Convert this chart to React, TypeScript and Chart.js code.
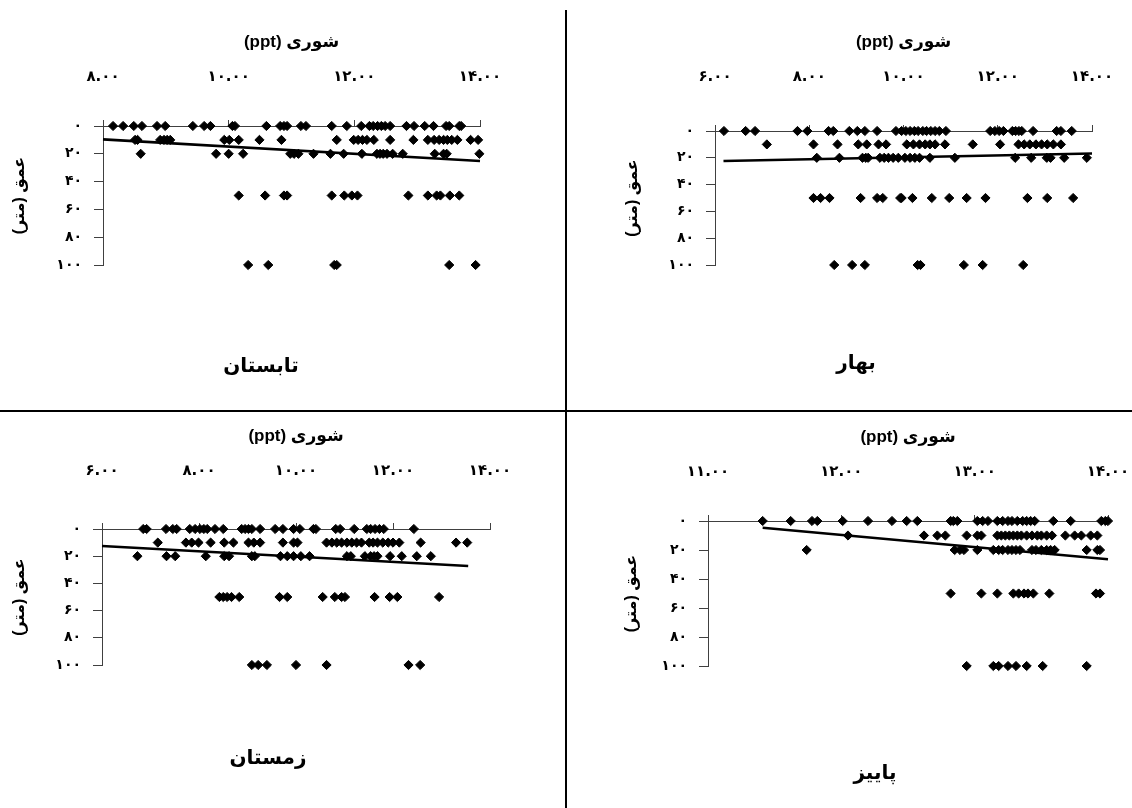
import React, { useEffect, useRef } from 'react';
import { Chart, registerables } from 'chart.js';

Chart.register(...registerables);

// ---------- shared ----------
const DEPTH_LEVELS = [0, 10, 20, 50, 100];
const DEPTH_TICKS = ['۰', '۲۰', '۴۰', '۶۰', '۸۰', '۱۰۰'];
const X_TITLE = 'شوری (ppt)';
const Y_TITLE = 'عمق (متر)';

// ---------- summer (تابستان) : salinity at each depth ----------
const summerD0 = [8.16, 8.32, 8.49, 8.62, 8.86, 8.99, 9.43, 9.61, 9.71, 10.06, 10.1, 10.6, 10.82, 10.88, 10.93, 11.15, 11.23, 11.64, 11.88, 12.11, 12.24, 12.3, 12.37, 12.43, 12.49, 12.57, 12.83, 12.95, 13.12, 13.26, 13.46, 13.51, 13.67, 13.7];
const summerD10 = [8.51, 8.55, 8.91, 8.97, 9.02, 9.07, 9.93, 10.01, 10.16, 10.49, 10.84, 11.72, 11.99, 12.06, 12.13, 12.2, 12.31, 12.57, 12.94, 13.17, 13.27, 13.35, 13.42, 13.48, 13.55, 13.64, 13.85, 13.97];
const summerD20 = [8.6, 9.8, 10.0, 10.23, 10.98, 11.04, 11.11, 11.35, 11.62, 11.83, 12.12, 12.36, 12.41, 12.46, 12.52, 12.61, 12.77, 13.28, 13.42, 13.47, 13.99];
const summerD50 = [10.16, 10.58, 10.88, 10.93, 11.64, 11.84, 11.96, 12.05, 12.86, 13.17, 13.31, 13.37, 13.52, 13.67];
const summerD100 = [10.31, 10.63, 11.68, 11.72, 13.51, 13.93];
const summerTrend = [{ x: 8.0, y: 9.6 }, { x: 14.0, y: 25.2 }];
const summerXTicks = ['۸.۰۰', '۱۰.۰۰', '۱۲.۰۰', '۱۴.۰۰'];

// ---------- spring (بهار) ----------
const springD0 = [6.19, 6.65, 6.85, 7.75, 7.96, 8.41, 8.51, 8.85, 9.02, 9.18, 9.44, 9.84, 9.96, 10.05, 10.14, 10.23, 10.31, 10.41, 10.49, 10.58, 10.67, 10.76, 10.9, 11.84, 11.94, 12.03, 12.12, 12.31, 12.38, 12.45, 12.51, 12.75, 13.25, 13.34, 13.57];
const springD10 = [7.1, 8.09, 8.6, 9.04, 9.22, 9.47, 9.63, 10.07, 10.21, 10.34, 10.46, 10.56, 10.67, 10.88, 11.47, 12.05, 12.44, 12.56, 12.68, 12.81, 12.93, 13.05, 13.18, 13.34];
const springD20 = [8.16, 8.64, 9.13, 9.2, 9.25, 9.5, 9.59, 9.68, 9.78, 9.89, 10.03, 10.14, 10.24, 10.34, 10.56, 11.09, 12.37, 12.71, 13.04, 13.12, 13.41, 13.89];
const springD50 = [8.09, 8.24, 8.43, 9.09, 9.44, 9.56, 9.93, 9.96, 10.19, 10.6, 10.97, 11.34, 11.74, 12.63, 13.05, 13.6];
const springD100 = [8.53, 8.91, 9.18, 10.3, 10.36, 11.28, 11.68, 12.54];
const springTrend = [{ x: 6.18, y: 22.4 }, { x: 14.0, y: 16.8 }];
const springXTicks = ['۶.۰۰', '۸.۰۰', '۱۰.۰۰', '۱۲.۰۰', '۱۴.۰۰'];

// ---------- winter (زمستان) ----------
const winterD0 = [6.85, 6.92, 7.32, 7.46, 7.54, 7.81, 7.92, 8.02, 8.1, 8.17, 8.33, 8.5, 8.88, 8.95, 9.02, 9.09, 9.26, 9.57, 9.73, 9.95, 10.08, 10.36, 10.41, 10.82, 10.91, 11.2, 11.46, 11.54, 11.63, 11.72, 11.81, 12.43];
const winterD10 = [7.15, 7.73, 7.85, 7.99, 8.24, 8.52, 8.71, 9.02, 9.13, 9.26, 9.73, 9.95, 10.03, 10.63, 10.74, 10.84, 10.94, 11.05, 11.15, 11.25, 11.35, 11.51, 11.59, 11.68, 11.79, 11.9, 12.0, 12.13, 12.57, 13.3, 13.53];
const winterD20 = [6.73, 7.33, 7.51, 8.14, 8.52, 8.62, 9.09, 9.15, 9.68, 9.82, 9.95, 10.1, 10.28, 11.05, 11.13, 11.42, 11.54, 11.61, 11.68, 11.94, 12.18, 12.49, 12.78];
const winterD50 = [8.42, 8.5, 8.58, 8.67, 8.83, 9.66, 9.82, 10.55, 10.8, 10.94, 11.01, 11.62, 11.93, 12.09, 12.95];
const winterD100 = [9.09, 9.22, 9.4, 10.0, 10.63, 12.32, 12.56];
const winterTrend = [{ x: 6.0, y: 12.5 }, { x: 13.55, y: 27.2 }];
const winterXTicks = ['۶.۰۰', '۸.۰۰', '۱۰.۰۰', '۱۲.۰۰', '۱۴.۰۰'];

// ---------- autumn (پاییز) ----------
const autumnD0 = [11.41, 11.62, 11.78, 11.82, 12.01, 12.2, 12.38, 12.49, 12.57, 12.82, 12.84, 12.87, 13.02, 13.06, 13.1, 13.17, 13.21, 13.25, 13.28, 13.32, 13.36, 13.39, 13.42, 13.45, 13.59, 13.72, 13.95, 13.98, 14.0];
const autumnD10 = [12.05, 12.62, 12.72, 12.78, 12.94, 13.02, 13.05, 13.17, 13.2, 13.23, 13.26, 13.29, 13.32, 13.35, 13.39, 13.43, 13.47, 13.5, 13.54, 13.58, 13.68, 13.75, 13.8, 13.87, 13.92];
const autumnD20 = [11.74, 12.85, 12.89, 12.92, 13.02, 13.14, 13.18, 13.21, 13.25, 13.28, 13.31, 13.34, 13.43, 13.46, 13.5, 13.54, 13.57, 13.6, 13.84, 13.92, 13.94];
const autumnD50 = [12.82, 13.05, 13.17, 13.29, 13.33, 13.37, 13.4, 13.44, 13.56, 13.91, 13.94];
const autumnD100 = [12.94, 13.14, 13.18, 13.25, 13.31, 13.39, 13.51, 13.84];
const autumnTrend = [{ x: 11.41, y: 4.6 }, { x: 14.0, y: 26.4 }];
const autumnXTicks = ['۱۱.۰۰', '۱۲.۰۰', '۱۳.۰۰', '۱۴.۰۰'];

// ---------- panel setup (layout only) ----------
type PanelCfg = {
  rows: number[][];
  trend: { x: number; y: number }[];
  xTicks: string[];
  xMin: number; xMax: number; xStep: number;
  left: number; top: number; w: number; h: number;
  pad: { left: number; right: number; top: number; bottom: number };
  yW: number; xH: number; xTitlePad: number; tickPad: number;
};

const PANELS: PanelCfg[] = [
  {
    rows: [summerD0, summerD10, summerD20, summerD50, summerD100], trend: summerTrend, xTicks: summerXTicks,
    xMin: 8, xMax: 14, xStep: 2,
    left: 0, top: 0, w: 565, h: 410,
    pad: { left: 6, right: 85, top: 0, bottom: 145 }, yW: 97, xH: 126, xTitlePad: 32, tickPad: 34,
  },
  {
    rows: [springD0, springD10, springD20, springD50, springD100], trend: springTrend, xTicks: springXTicks,
    xMin: 6, xMax: 14, xStep: 2,
    left: 568, top: 0, w: 564, h: 410,
    pad: { left: 51, right: 40, top: 0, bottom: 145 }, yW: 96, xH: 131, xTitlePad: 32, tickPad: 39,
  },
  {
    rows: [winterD0, winterD10, winterD20, winterD50, winterD100], trend: winterTrend, xTicks: winterXTicks,
    xMin: 6, xMax: 14, xStep: 2,
    left: 0, top: 413, w: 565, h: 395,
    pad: { left: 6, right: 75, top: 0, bottom: 143 }, yW: 96, xH: 116, xTitlePad: 13, tickPad: 43,
  },
  {
    rows: [autumnD0, autumnD10, autumnD20, autumnD50, autumnD100], trend: autumnTrend, xTicks: autumnXTicks,
    xMin: 11, xMax: 14, xStep: 1,
    left: 568, top: 413, w: 564, h: 395,
    pad: { left: 50, right: 24, top: 0, bottom: 142 }, yW: 90, xH: 108, xTitlePad: 14, tickPad: 34,
  },
];

const SEASONS = [
  { text: 'تابستان', x: 261, y: 365 },
  { text: 'بهار', x: 856, y: 362 },
  { text: 'زمستان', x: 268, y: 757 },
  { text: 'پاییز', x: 875, y: 772 },
];

const AXIS_COLOR = '#404040';
const DIGIT_FONT = "'DejaVu Sans', sans-serif";
const TITLE_FONT = "'Liberation Sans', 'DejaVu Sans', sans-serif";

function Panel({ cfg }: { cfg: PanelCfg }) {
  const ref = useRef<HTMLCanvasElement | null>(null);
  useEffect(() => {
    if (!ref.current) return;
    const points: { x: number; y: number }[] = [];
    cfg.rows.forEach((row, i) => row.forEach((x) => points.push({ x, y: DEPTH_LEVELS[i] })));
    const chart = new Chart(ref.current, {
      type: 'scatter',
      data: {
        datasets: [
          {
            type: 'line',
            data: cfg.trend,
            borderColor: '#000',
            borderWidth: 2.6,
            pointRadius: 0,
            fill: false,
            clip: false,
            order: 0,
          } as any,
          {
            type: 'scatter',
            data: points,
            pointStyle: 'rectRot',
            pointRadius: 4.6,
            backgroundColor: '#000',
            borderColor: '#000',
            borderWidth: 1,
            clip: false,
            order: 1,
          } as any,
        ],
      },
      options: {
        responsive: false,
        animation: false,
        events: [],
        layout: { padding: cfg.pad, autoPadding: false },
        plugins: { legend: { display: false }, tooltip: { enabled: false }, title: { display: false } },
        scales: {
          x: {
            type: 'linear',
            position: 'top',
            min: cfg.xMin,
            max: cfg.xMax,
            ticks: {
              stepSize: cfg.xStep,
              autoSkip: false,
              maxRotation: 0,
              padding: cfg.tickPad,
              color: '#000',
              font: { family: DIGIT_FONT, size: 15, weight: 'bold' },
              callback: (v: any) => cfg.xTicks[Math.round((Number(v) - cfg.xMin) / cfg.xStep)],
            },
            grid: { drawOnChartArea: false, drawTicks: true, tickLength: 6, color: AXIS_COLOR },
            border: { color: AXIS_COLOR, width: 1 },
            title: {
              display: true,
              text: X_TITLE,
              color: '#000',
              font: { family: TITLE_FONT, size: 17, weight: 'bold' },
              padding: { top: cfg.xTitlePad, bottom: 0 },
            },
            afterFit: (s: any) => {
              s.height = cfg.xH;
              s.paddingLeft = 0;
              s.paddingRight = 0;
            },
          },
          y: {
            type: 'linear',
            position: 'left',
            reverse: true,
            min: 0,
            max: 100,
            ticks: {
              stepSize: 20,
              autoSkip: false,
              padding: 12,
              color: '#000',
              font: { family: DIGIT_FONT, size: 14, weight: 'bold' },
              callback: (v: any) => DEPTH_TICKS[Math.round(Number(v) / 20)],
            },
            grid: { drawOnChartArea: false, drawTicks: true, tickLength: 9, color: AXIS_COLOR },
            border: { color: AXIS_COLOR, width: 1 },
            title: {
              display: true,
              text: Y_TITLE,
              color: '#000',
              font: { family: TITLE_FONT, size: 16, weight: 'bold' },
              padding: { top: 4, bottom: 0 },
            },
            afterFit: (s: any) => {
              s.width = cfg.yW;
              s.paddingTop = 0;
              s.paddingBottom = 0;
            },
          },
        },
      } as any,
    });
    return () => chart.destroy();
  }, [cfg]);
  return (
    <div style={{ position: 'absolute', left: cfg.left, top: cfg.top, width: cfg.w, height: cfg.h }}>
      <canvas ref={ref} width={cfg.w} height={cfg.h} dir="rtl" style={{ direction: 'rtl' }} />
    </div>
  );
}

export default function App() {
  useEffect(() => {
    document.body.style.margin = '0';
    document.body.style.background = '#fff';
  }, []);
  return (
    <div style={{ position: 'absolute', left: 0, top: 0, width: 1132, height: 808, background: '#fff', overflow: 'hidden' }}>
      {PANELS.map((p, i) => (
        <Panel key={i} cfg={p} />
      ))}
      {SEASONS.map((s, i) => (
        <div
          key={'s' + i}
          dir="rtl"
          style={{
            position: 'absolute',
            left: s.x,
            top: s.y,
            transform: 'translate(-50%, -50%)',
            font: "bold 20px 'DejaVu Sans', sans-serif",
            color: '#000',
            whiteSpace: 'nowrap',
          }}
        >
          {s.text}
        </div>
      ))}
      <div style={{ position: 'absolute', left: 565, top: 10, width: 2, height: 798, background: '#000' }} />
      <div style={{ position: 'absolute', left: 0, top: 410, width: 1132, height: 2, background: '#000' }} />
    </div>
  );
}
